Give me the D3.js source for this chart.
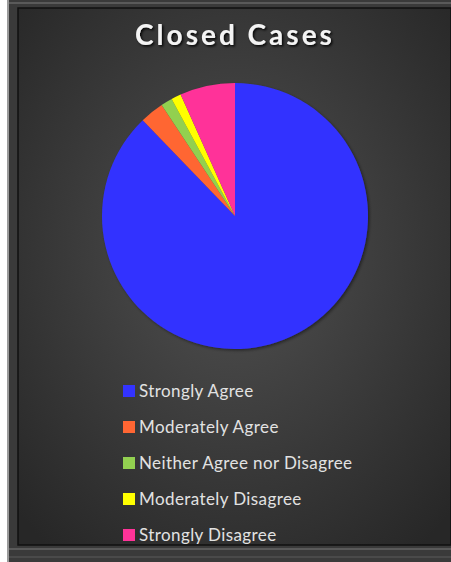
<!DOCTYPE html>
<html>
<head>
<meta charset="utf-8">
<script src="https://cdn.jsdelivr.net/npm/d3@7"></script>
<style>
  html, body { margin: 0; padding: 0; background: #ffffff; }
  svg { display: block; }
</style>
</head>
<body>
<script>
// Survey responses for closed cases (share of responses, %)
const categories = ["Strongly Agree", "Moderately Agree", "Neither Agree nor Disagree", "Moderately Disagree", "Strongly Disagree"];
const values = [87.8, 2.9, 1.4, 1.2, 6.7];
const colors = ["#3333ff", "#ff6633", "#92d050", "#ffff00", "#ff3399"];
const title = "Closed Cases";

const W = 451, H = 562;
const svg = d3.select("body").append("svg").attr("width", W).attr("height", H);
const defs = svg.append("defs");

const bg = defs.append("radialGradient").attr("id", "bg")
  .attr("cx", "50%").attr("cy", "45%").attr("r", "70%");
bg.append("stop").attr("offset", "0%").attr("stop-color", "#515151");
bg.append("stop").attr("offset", "100%").attr("stop-color", "#272727");

const sh = defs.append("filter").attr("id", "shadow")
  .attr("x", "-20%").attr("y", "-20%").attr("width", "140%").attr("height", "140%");
sh.append("feDropShadow").attr("dx", 1.5).attr("dy", 1.5).attr("stdDeviation", 1.5)
  .attr("flood-color", "#000").attr("flood-opacity", 0.45);

const tsh = defs.append("filter").attr("id", "tshadow")
  .attr("x", "-10%").attr("y", "-30%").attr("width", "120%").attr("height", "160%");
tsh.append("feDropShadow").attr("dx", 1.5).attr("dy", 1.5).attr("stdDeviation", 1)
  .attr("flood-color", "#000").attr("flood-opacity", 0.9);

// outer frame
svg.append("rect").attr("x", 8).attr("y", 0).attr("width", W - 8).attr("height", H).attr("fill", "#3a3a3a");
svg.append("rect").attr("x", 9).attr("y", 2).attr("width", W - 9).attr("height", 2).attr("fill", "#5a5a5a");
svg.append("rect").attr("x", 9).attr("y", H - 14).attr("width", W - 9).attr("height", 2).attr("fill", "#5a5a5a");
svg.append("rect").attr("x", 9).attr("y", H - 6).attr("width", W - 9).attr("height", 2).attr("fill", "#4a4a4a");
svg.append("rect").attr("x", 7).attr("y", 0).attr("width", 2).attr("height", H).attr("fill", "#9a9a9a");

// inner panel
svg.append("rect").attr("x", 18).attr("y", 8).attr("width", W - 18).attr("height", H - 8 - 17)
  .attr("fill", "url(#bg)").attr("stroke", "#111").attr("stroke-width", 1.5);

// title
svg.append("text").attr("x", 235).attr("y", 45)
  .attr("text-anchor", "middle")
  .attr("font-family", "Lato, 'Open Sans', sans-serif")
  .attr("font-weight", "bold").attr("font-size", 28)
  .attr("letter-spacing", 3)
  .attr("fill", "#f4f4f4")
  .attr("filter", "url(#tshadow)")
  .text(title);

// pie
const cx = 235, cy = 216, R = 133;
const pie = d3.pie().sort(null).value(d => d)(values);
const arc = d3.arc().innerRadius(0).outerRadius(R);
const color = d3.scaleOrdinal().domain(categories).range(colors);

svg.append("g").attr("transform", `translate(${cx},${cy})`)
  .attr("filter", "url(#shadow)")
  .selectAll("path").data(pie).join("path")
  .attr("d", arc)
  .attr("fill", (d, i) => color(categories[i]));

// legend
const legend = svg.append("g").selectAll("g").data(categories).join("g")
  .attr("transform", (d, i) => `translate(123, ${391 + i * 36})`);
legend.append("rect").attr("x", 0).attr("y", -6).attr("width", 12).attr("height", 12)
  .attr("fill", d => color(d));
legend.append("text").attr("x", 16).attr("y", 6)
  .attr("font-family", "Lato, 'Open Sans', sans-serif")
  .attr("font-size", 17)
  .attr("letter-spacing", 0.4)
  .attr("fill", "#e2e2e2")
  .text(d => d);
</script>
</body>
</html>
